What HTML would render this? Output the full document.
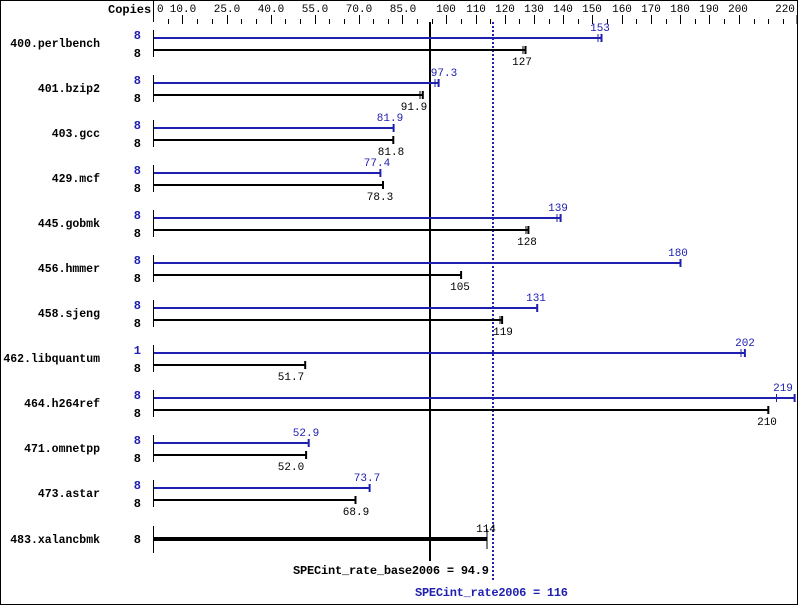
<!DOCTYPE html>
<html><head><meta charset="utf-8"><style>
html,body{margin:0;padding:0;background:#fff}
svg{display:block}
text{font-family:"Liberation Mono","DejaVu Sans Mono",monospace}
.n{font-size:11.5px;font-weight:bold;text-anchor:end}
.c{font-size:12px;font-weight:bold;text-anchor:end}
.v{font-size:11px;text-anchor:middle}
.ax{font-size:11px}
</style></head><body>
<svg width="799" height="606" viewBox="0 0 799 606" xmlns="http://www.w3.org/2000/svg">
<rect x="0.5" y="0.5" width="797" height="604" fill="#fff" stroke="#000"/>
<line x1="153.5" y1="0" x2="153.5" y2="22" stroke="#000"/>
<text x="108" y="13" font-size="12" font-weight="bold">Copies</text>
<g class="ax" fill="#000">
<text x="157" y="12">0</text>
<text x="183" y="12" text-anchor="middle">10.0</text>
<text x="227" y="12" text-anchor="middle">25.0</text>
<text x="271" y="12" text-anchor="middle">40.0</text>
<text x="315" y="12" text-anchor="middle">55.0</text>
<text x="359" y="12" text-anchor="middle">70.0</text>
<text x="403" y="12" text-anchor="middle">85.0</text>
<text x="446" y="12" text-anchor="middle">100</text>
<text x="476" y="12" text-anchor="middle">110</text>
<text x="505" y="12" text-anchor="middle">120</text>
<text x="534" y="12" text-anchor="middle">130</text>
<text x="563" y="12" text-anchor="middle">140</text>
<text x="592" y="12" text-anchor="middle">150</text>
<text x="622" y="12" text-anchor="middle">160</text>
<text x="651" y="12" text-anchor="middle">170</text>
<text x="680" y="12" text-anchor="middle">180</text>
<text x="709" y="12" text-anchor="middle">190</text>
<text x="738" y="12" text-anchor="middle">200</text>
<text x="785" y="12" text-anchor="middle">220</text>
</g>
<path stroke="#000" fill="none" d="
M168.5 19V24 M197.5 19V24 M212.5 19V24 M241.5 19V24 M256.5 19V24 M285.5 19V24 M300.5 19V24 M329.5 19V24 M344.5 19V24 M373.5 19V24 M388.5 19V24 M417.5 19V24 M432.5 19V24 M461.5 19V24 M490.5 19V24 M519.5 19V24 M549.5 19V24 M578.5 19V24 M607.5 19V24 M636.5 19V24 M666.5 19V24 M695.5 19V24 M724.5 19V24 M754.5 19V24 M768.5 19V24 M783.5 19V24
M182.5 15V24 M227.5 15V24 M271.5 15V24 M315.5 15V24 M359.5 15V24 M402.5 15V24 M446.5 15V24 M476.5 15V24 M505.5 15V24 M534.5 15V24 M563.5 15V24 M592.5 15V24 M622.5 15V24 M651.5 15V24 M680.5 15V24 M709.5 15V24 M739.5 15V24 M797 15V24"/>

<line x1="430" y1="22" x2="430" y2="561" stroke="#000" stroke-width="2"/>
<line x1="493" y1="22" x2="493" y2="580" stroke="#2020b0" stroke-width="2" stroke-dasharray="2,2"/>

<g stroke-width="2">
<line x1="153.5" y1="30" x2="153.5" y2="57" stroke="#000" stroke-width="1"/>
<line x1="154" y1="38" x2="601.5" y2="38" stroke="#2020b0"/><line x1="601.5" y1="34" x2="601.5" y2="42" stroke="#2020b0"/><line x1="598" y1="34" x2="598" y2="42" stroke="#2020b0" stroke-width="1"/>
<line x1="154" y1="50" x2="525.5" y2="50" stroke="#000"/><line x1="525.5" y1="46" x2="525.5" y2="54" stroke="#000"/><line x1="523" y1="46" x2="523" y2="54" stroke="#000" stroke-width="1"/>
<line x1="153.5" y1="75" x2="153.5" y2="102" stroke="#000" stroke-width="1"/>
<line x1="154" y1="83" x2="438.6" y2="83" stroke="#2020b0"/><line x1="438.6" y1="79" x2="438.6" y2="87" stroke="#2020b0"/><line x1="435" y1="79" x2="435" y2="87" stroke="#2020b0" stroke-width="1"/>
<line x1="154" y1="95" x2="422.8" y2="95" stroke="#000"/><line x1="422.8" y1="91" x2="422.8" y2="99" stroke="#000"/><line x1="420" y1="91" x2="420" y2="99" stroke="#000" stroke-width="1"/>
<line x1="153.5" y1="120" x2="153.5" y2="147" stroke="#000" stroke-width="1"/>
<line x1="154" y1="128" x2="393.6" y2="128" stroke="#2020b0"/><line x1="393.6" y1="124" x2="393.6" y2="132" stroke="#2020b0"/>
<line x1="154" y1="140" x2="393.3" y2="140" stroke="#000"/><line x1="393.3" y1="136" x2="393.3" y2="144" stroke="#000"/>
<line x1="153.5" y1="165" x2="153.5" y2="192" stroke="#000" stroke-width="1"/>
<line x1="154" y1="173" x2="380.4" y2="173" stroke="#2020b0"/><line x1="380.4" y1="169" x2="380.4" y2="177" stroke="#2020b0"/>
<line x1="154" y1="185" x2="383" y2="185" stroke="#000"/><line x1="383" y1="181" x2="383" y2="189" stroke="#000"/>
<line x1="153.5" y1="210" x2="153.5" y2="237" stroke="#000" stroke-width="1"/>
<line x1="154" y1="218" x2="560.6" y2="218" stroke="#2020b0"/><line x1="560.6" y1="214" x2="560.6" y2="222" stroke="#2020b0"/><line x1="557" y1="214" x2="557" y2="222" stroke="#2020b0" stroke-width="1"/>
<line x1="154" y1="230" x2="528.4" y2="230" stroke="#000"/><line x1="528.4" y1="226" x2="528.4" y2="234" stroke="#000"/><line x1="526" y1="226" x2="526" y2="234" stroke="#000" stroke-width="1"/>
<line x1="153.5" y1="255" x2="153.5" y2="282" stroke="#000" stroke-width="1"/>
<line x1="154" y1="263" x2="680.5" y2="263" stroke="#2020b0"/><line x1="680.5" y1="259" x2="680.5" y2="267" stroke="#2020b0"/>
<line x1="154" y1="275" x2="461.1" y2="275" stroke="#000"/><line x1="461.1" y1="271" x2="461.1" y2="279" stroke="#000"/>
<line x1="153.5" y1="300" x2="153.5" y2="327" stroke="#000" stroke-width="1"/>
<line x1="154" y1="308" x2="537.2" y2="308" stroke="#2020b0"/><line x1="537.2" y1="304" x2="537.2" y2="312" stroke="#2020b0"/>
<line x1="154" y1="320" x2="502.1" y2="320" stroke="#000"/><line x1="502.1" y1="316" x2="502.1" y2="324" stroke="#000"/><line x1="500" y1="316" x2="500" y2="324" stroke="#000" stroke-width="1"/>
<line x1="153.5" y1="345" x2="153.5" y2="372" stroke="#000" stroke-width="1"/>
<line x1="154" y1="353" x2="744.9" y2="353" stroke="#2020b0"/><line x1="744.9" y1="349" x2="744.9" y2="357" stroke="#2020b0"/><line x1="741" y1="349" x2="741" y2="357" stroke="#2020b0" stroke-width="1"/>
<line x1="154" y1="365" x2="305.2" y2="365" stroke="#000"/><line x1="305.2" y1="361" x2="305.2" y2="369" stroke="#000"/>
<line x1="153.5" y1="390" x2="153.5" y2="417" stroke="#000" stroke-width="1"/>
<line x1="154" y1="398" x2="794.6" y2="398" stroke="#2020b0"/><line x1="794.6" y1="394" x2="794.6" y2="402" stroke="#2020b0"/><line x1="776.5" y1="394" x2="776.5" y2="402" stroke="#2020b0" stroke-width="1"/>
<line x1="154" y1="410" x2="768.3" y2="410" stroke="#000"/><line x1="768.3" y1="406" x2="768.3" y2="414" stroke="#000"/>
<line x1="153.5" y1="435" x2="153.5" y2="462" stroke="#000" stroke-width="1"/>
<line x1="154" y1="443" x2="308.7" y2="443" stroke="#2020b0"/><line x1="308.7" y1="439" x2="308.7" y2="447" stroke="#2020b0"/>
<line x1="154" y1="455" x2="306.1" y2="455" stroke="#000"/><line x1="306.1" y1="451" x2="306.1" y2="459" stroke="#000"/>
<line x1="153.5" y1="480" x2="153.5" y2="507" stroke="#000" stroke-width="1"/>
<line x1="154" y1="488" x2="369.6" y2="488" stroke="#2020b0"/><line x1="369.6" y1="484" x2="369.6" y2="492" stroke="#2020b0"/>
<line x1="154" y1="500" x2="355.5" y2="500" stroke="#000"/><line x1="355.5" y1="496" x2="355.5" y2="504" stroke="#000"/>
<line x1="153.5" y1="526" x2="153.5" y2="553" stroke="#000" stroke-width="1"/>
<line x1="154" y1="539" x2="487.5" y2="539" stroke="#000" stroke-width="4"/><line x1="487" y1="529" x2="487" y2="549" stroke="#000" stroke-width="1"/>
</g>

<g class="n" fill="#000">
<text x="100" y="47">400.perlbench</text>
<text x="100" y="92">401.bzip2</text>
<text x="100" y="137">403.gcc</text>
<text x="100" y="182">429.mcf</text>
<text x="100" y="227">445.gobmk</text>
<text x="100" y="272">456.hmmer</text>
<text x="100" y="317">458.sjeng</text>
<text x="100" y="362">462.libquantum</text>
<text x="100" y="407">464.h264ref</text>
<text x="100" y="452">471.omnetpp</text>
<text x="100" y="497">473.astar</text>
<text x="100" y="543">483.xalancbmk</text>
</g>
<g class="c" fill="#2020b0">
<text x="141" y="39">8</text><text x="141" y="84">8</text><text x="141" y="129">8</text><text x="141" y="174">8</text><text x="141" y="219">8</text><text x="141" y="264">8</text><text x="141" y="309">8</text><text x="141" y="354">1</text><text x="141" y="399">8</text><text x="141" y="444">8</text><text x="141" y="489">8</text>
</g>
<g class="c" fill="#000">
<text x="141" y="57">8</text><text x="141" y="102">8</text><text x="141" y="147">8</text><text x="141" y="192">8</text><text x="141" y="237">8</text><text x="141" y="282">8</text><text x="141" y="327">8</text><text x="141" y="372">8</text><text x="141" y="417">8</text><text x="141" y="462">8</text><text x="141" y="507">8</text><text x="141" y="543">8</text>
</g>
<g class="v" fill="#2020b0">
<text x="600" y="31">153</text>
<text x="444" y="76">97.3</text>
<text x="390" y="121">81.9</text>
<text x="377" y="166">77.4</text>
<text x="558" y="211">139</text>
<text x="678" y="256">180</text>
<text x="536" y="301">131</text>
<text x="745" y="346">202</text>
<text x="783" y="391">219</text>
<text x="306" y="436">52.9</text>
<text x="367" y="481">73.7</text>
</g>
<g class="v" fill="#000">
<text x="522" y="65">127</text>
<text x="414" y="110">91.9</text>
<text x="391" y="155">81.8</text>
<text x="380" y="200">78.3</text>
<text x="527" y="245">128</text>
<text x="460" y="290">105</text>
<text x="503" y="335">119</text>
<text x="291" y="380">51.7</text>
<text x="767" y="425">210</text>
<text x="291" y="470">52.0</text>
<text x="356" y="515">68.9</text>
<text x="486" y="532">114</text>
</g>
<text x="489" y="574" font-size="12" font-weight="bold" text-anchor="end" textLength="196" fill="#000">SPECint_rate_base2006 = 94.9</text>
<text x="415" y="596" font-size="12" font-weight="bold" textLength="153" fill="#2020b0">SPECint_rate2006 = 116</text>
</svg>
</body></html>
